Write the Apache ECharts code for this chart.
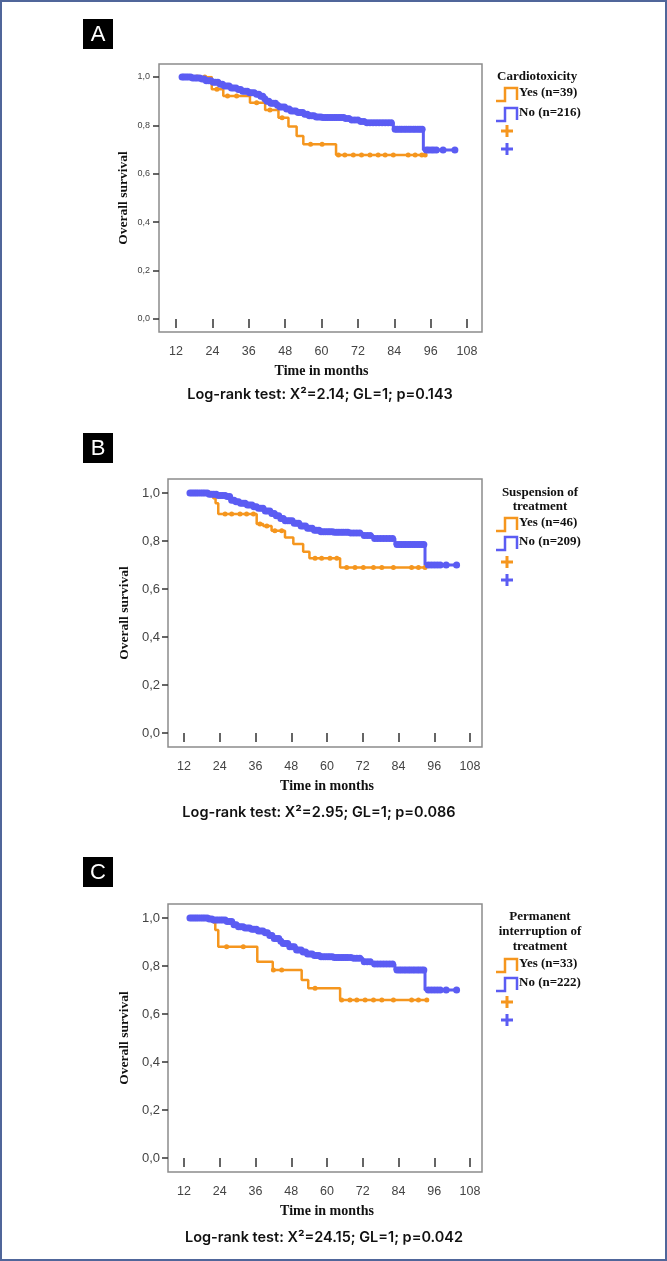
<!DOCTYPE html>
<html>
<head>
<meta charset="utf-8">
<script src="https://cdn.jsdelivr.net/npm/echarts@6/dist/echarts.min.js"></script>
<style>
html,body{margin:0;padding:0;background:#fff;}
#chart{width:667px;height:1261px;}
</style>
</head>
<body>
<div id="chart"></div>
<script>
// ---------- data ----------
const monthTicks = [12, 24, 36, 48, 60, 72, 84, 96, 108];
const survTicks = [0.0, 0.2, 0.4, 0.6, 0.8, 1.0];

// Panel A - Cardiotoxicity
const aYesTime = [14, 23.8, 27.6, 36.4, 41.4, 45.8, 49.1, 51.8, 54.0, 64.8, 94.2];
const aYesSurv = [1.0, 0.949, 0.921, 0.894, 0.864, 0.832, 0.795, 0.756, 0.722, 0.678, 0.678];
const aYesCens = [16.5, 19, 21.5, 25.5, 29, 32, 38.6, 43, 47, 56.4, 60.2, 65.6, 67.7, 70.5, 73.2, 76, 78.7, 81, 83.7, 88.6, 90.9, 93.1, 94.2];
const aNoTime = [14, 17, 20, 22, 24, 26, 28, 30, 32, 34, 36, 38, 40, 41, 42, 43, 45, 46, 48, 50, 52, 54, 56, 58, 60, 68, 70, 73, 75, 83.7, 93.6, 104];
const aNoSurv = [1.000, 0.996, 0.992, 0.985, 0.978, 0.970, 0.963, 0.955, 0.948, 0.941, 0.935, 0.929, 0.920, 0.910, 0.900, 0.892, 0.883, 0.876, 0.868, 0.860, 0.853, 0.846, 0.840, 0.835, 0.833, 0.828, 0.822, 0.816, 0.811, 0.784, 0.698, 0.698];
const aNoCens = [14, 14.6, 15.3, 16, 16.8, 17.5, 18.3, 19, 19.8, 20.6, 21.3, 22, 22.8, 23.5, 24.3, 25, 25.8, 26.6, 27.3, 28, 28.8, 29.5, 30.3, 31, 31.8, 32.6, 33.3, 34, 34.8, 35.5, 36.3, 37, 37.8, 38.6, 39.3, 40, 40.6, 41.3, 42, 42.6, 43.3, 44, 44.8, 45.5, 46.3, 47, 47.8, 48.5, 49.3, 50, 50.8, 51.5, 52.3, 53, 53.8, 54.5, 55.3, 56, 56.8, 57.5, 58.3, 59, 59.8, 60.5, 61.3, 62, 62.8, 63.5, 64.3, 65, 65.8, 66.5, 67.3, 68, 69, 70, 71, 72, 73, 74, 75, 76, 77, 78, 79, 80, 81, 82, 83, 84.3, 85, 85.8, 86.5, 87.3, 88, 88.8, 89.5, 90.3, 91, 91.8, 92.5, 93.2, 94.6, 95.3, 96.2, 97, 97.9, 100.1, 104];

// Panel B - Suspension of treatment
const bYesTime = [14, 21.8, 22.6, 23.5, 36.4, 38.6, 41.4, 45.9, 48.7, 52.0, 54.1, 64.4, 92.9];
const bYesSurv = [1.0, 0.978, 0.957, 0.913, 0.871, 0.862, 0.843, 0.815, 0.787, 0.755, 0.728, 0.690, 0.690];
const bYesCens = [16, 18.5, 20.5, 25.8, 28, 30.8, 33, 35.3, 37.5, 39.8, 42.5, 44.8, 56, 58.2, 61, 63.3, 66.6, 69.4, 72.2, 75.6, 78.4, 82.3, 88.4, 90.7, 92.9];
const bNoTime = [14, 20, 23, 26, 28, 29, 31, 33, 35, 37, 39, 41, 42.5, 44, 46, 48.7, 51, 53.2, 55.5, 57.7, 62, 68, 72, 75.5, 82.8, 92.9, 103.5];
const bNoSurv = [1.0, 0.995, 0.990, 0.985, 0.970, 0.964, 0.957, 0.950, 0.943, 0.936, 0.925, 0.915, 0.905, 0.894, 0.884, 0.874, 0.863, 0.853, 0.845, 0.839, 0.836, 0.833, 0.823, 0.810, 0.785, 0.700, 0.700];
const bNoCens = [14, 14.7, 15.4, 16.1, 16.8, 17.6, 18.3, 19, 19.8, 20.5, 21.3, 22, 22.8, 23.5, 24.3, 25, 25.8, 26.5, 27.3, 28, 28.8, 29.5, 30.3, 31, 31.8, 32.5, 33.3, 34, 34.8, 35.5, 36.3, 37, 37.8, 38.5, 39.3, 40, 40.8, 41.5, 42.3, 43, 43.8, 44.5, 45.3, 46, 46.8, 47.5, 48.3, 49, 49.8, 50.5, 51.3, 52, 52.8, 53.5, 54.3, 55, 55.8, 56.5, 57.3, 58, 58.8, 59.5, 60.3, 61, 61.8, 62.5, 63.3, 64, 64.8, 65.5, 66.3, 67, 68, 69, 70, 71, 72.5, 73.5, 74.5, 76, 77, 78, 79, 80, 81, 82, 83.5, 84.3, 85, 85.8, 86.5, 87.3, 88, 88.8, 89.5, 90.3, 91, 91.8, 92.5, 94, 95, 96, 97, 98, 100, 103.5];

// Panel C - Permanent interruption of treatment
const cYesTime = [14, 21.8, 22.5, 23.5, 36.6, 41.8, 51.5, 53.7, 64.4, 93.5];
const cYesSurv = [1.0, 0.981, 0.950, 0.880, 0.818, 0.783, 0.742, 0.707, 0.658, 0.658];
const cYesCens = [16, 18.5, 20.5, 26.3, 31.9, 42, 44.8, 56, 64.9, 67.7, 70, 72.8, 75.6, 78.4, 82.3, 88.4, 90.7, 93.5];
const cNoTime = [14, 20, 22, 26.3, 28.5, 29.7, 32, 34.2, 36.5, 38.6, 40.5, 42, 44, 45.3, 47.5, 49.8, 51.5, 53.2, 55.5, 57.7, 62, 68.8, 72.1, 75, 82.8, 92.9, 103.5];
const cNoSurv = [1.0, 0.996, 0.992, 0.985, 0.972, 0.964, 0.958, 0.953, 0.946, 0.939, 0.927, 0.915, 0.903, 0.894, 0.880, 0.867, 0.858, 0.850, 0.844, 0.839, 0.835, 0.832, 0.818, 0.808, 0.783, 0.700, 0.700];
const cNoCens = [14, 14.7, 15.4, 16.1, 16.8, 17.6, 18.3, 19, 19.8, 20.5, 21.3, 22, 22.8, 23.5, 24.3, 25, 25.8, 26.5, 27.3, 28, 28.8, 29.5, 30.3, 31, 31.8, 32.5, 33.3, 34, 34.8, 35.5, 36.3, 37, 37.8, 38.5, 39.3, 40, 40.8, 41.5, 42.3, 43, 43.8, 44.5, 45.3, 46, 46.8, 47.5, 48.3, 49, 49.8, 50.5, 51.3, 52, 52.8, 53.5, 54.3, 55, 55.8, 56.5, 57.3, 58, 58.8, 59.5, 60.3, 61, 61.8, 62.5, 63.3, 64, 64.8, 65.5, 66.3, 67, 68, 69, 70, 71, 72.5, 73.5, 74.5, 76, 77, 78, 79, 80, 81, 82, 83.5, 84.3, 85, 85.8, 86.5, 87.3, 88, 88.8, 89.5, 90.3, 91, 91.8, 92.5, 94, 95, 96, 97, 98, 100, 103.5];

const legendTitles = [["Cardiotoxicity"], ["Suspension of", "treatment"], ["Permanent", "interruption of", "treatment"]];
const legendYes = ["Yes (n=39)", "Yes (n=46)", "Yes (n=33)"];
const legendNo = ["No (n=216)", "No (n=209)", "No (n=222)"];
const panelLetters = ["A", "B", "C"];
const logRankTexts = [
  "Log-rank test: X\u00B2=2.14; GL=1; p=0.143",
  "Log-rank test: X\u00B2=2.95; GL=1; p=0.086",
  "Log-rank test: X\u00B2=24.15; GL=1; p=0.042"
];

// ---------- styling / layout ----------
const ORANGE = '#f5961e';
const BLUE = '#5b5cf3';
const SERIF = '"Liberation Serif", "DejaVu Serif", serif';
const SANS = '"Liberation Sans", Arial, sans-serif';

const panels = [
  { box: {left: 159, top: 64, width: 323, height: 268}, data: {left: 176, top: 77, width: 291, height: 242},
    yOff: 17, xOff: 13, yFont: 9, yMargin: 9, yNameGap: 28,
    yes: [aYesTime, aYesSurv, aYesCens], no: [aNoTime, aNoSurv, aNoCens],
    legend: {titleAlign: 'left', titleX: 497, titleY: [77], rows: [93, 113, 131, 149]},
    letter: {x: 83, y: 19}, logY: 395, logX: 320 },
  { box: {left: 168, top: 479, width: 314, height: 268}, data: {left: 184, top: 493, width: 286, height: 240},
    yOff: 16, xOff: 14, yFont: 13, yMargin: 8, yNameGap: 36,
    yes: [bYesTime, bYesSurv, bYesCens], no: [bNoTime, bNoSurv, bNoCens],
    legend: {titleAlign: 'center', titleX: 540, titleY: [493, 507], rows: [523, 542, 562, 580]},
    letter: {x: 83, y: 433}, logY: 813, logX: 319 },
  { box: {left: 168, top: 904, width: 314, height: 268}, data: {left: 184, top: 918, width: 286, height: 240},
    yOff: 16, xOff: 14, yFont: 13, yMargin: 8, yNameGap: 36,
    yes: [cYesTime, cYesSurv, cYesCens], no: [cNoTime, cNoSurv, cNoCens],
    legend: {titleAlign: 'center', titleX: 540, titleY: [917, 932, 947], rows: [964, 983, 1002, 1020]},
    letter: {x: 83, y: 857}, logY: 1238, logX: 324 }
];

function stepAt(times, survs, t) {
  let v = survs[0];
  for (let i = 0; i < times.length; i++) { if (times[i] <= t) v = survs[i]; }
  return v;
}

const grids = [], xAxes = [], yAxes = [], series = [], graphics = [];

graphics.push({type: 'rect', silent: true, shape: {x: 1, y: 1, width: 665, height: 1259},
  style: {fill: 'none', stroke: '#50669a', lineWidth: 2}});

panels.forEach((p, k) => {
  const gBox = grids.length;
  grids.push(Object.assign({show: true, borderColor: '#8c8c8c', borderWidth: 1.5, backgroundColor: 'transparent'}, p.box));
  xAxes.push({gridIndex: gBox, type: 'value', show: false, min: 0, max: 1});
  yAxes.push({gridIndex: gBox, type: 'value', show: false, min: 0, max: 1});
  const gData = grids.length;
  grids.push(Object.assign({show: false}, p.data));
  xAxes.push({
    gridIndex: gData, type: 'value', min: monthTicks[0], max: monthTicks[monthTicks.length - 1], interval: 12,
    offset: p.xOff,
    axisLine: {show: false},
    axisTick: {show: true, length: 9, lineStyle: {color: '#333', width: 1.5}},
    axisLabel: {show: true, fontSize: 12.5, color: '#444', fontFamily: SANS, margin: 13},
    splitLine: {show: false},
    name: 'Time in months', nameLocation: 'middle', nameGap: 32,
    nameTextStyle: {fontFamily: SERIF, fontWeight: 'bold', fontSize: 14, color: '#111'}
  });
  yAxes.push({
    gridIndex: gData, type: 'value', min: survTicks[0], max: survTicks[survTicks.length - 1], interval: 0.2,
    offset: p.yOff,
    axisLine: {show: false},
    axisTick: {show: true, length: 6, lineStyle: {color: '#333', width: 1.5}},
    axisLabel: {show: true, fontSize: p.yFont, color: '#444', fontFamily: SANS, margin: p.yMargin,
      formatter: v => v.toFixed(1).replace('.', ',')},
    splitLine: {show: false},
    name: 'Overall survival', nameLocation: 'middle', nameGap: p.yNameGap, nameRotate: 90,
    nameTextStyle: {fontFamily: SERIF, fontWeight: 'bold', fontSize: 13.5, color: '#111'}
  });

  const groups = [[p.yes, ORANGE, 5, 2.5, legendYes[k]], [p.no, BLUE, 7, 3, legendNo[k]]];
  groups.forEach(([g, color, sz, lw, name]) => {
    const [times, survs, cens] = g;
    series.push({
      type: 'line', name: name, xAxisIndex: gData, yAxisIndex: gData, step: 'end',
      showSymbol: false, symbol: 'none', lineStyle: {color: color, width: lw}, z: 3,
      data: times.map((t, i) => [t, survs[i]]), animation: false
    });
    series.push({
      type: 'scatter', name: name + ' censored', xAxisIndex: gData, yAxisIndex: gData,
      symbol: 'circle', symbolSize: sz, itemStyle: {color: color, opacity: 1}, z: 4,
      data: cens.map(t => [t, stepAt(times, survs, t)]), animation: false
    });
  });

  // panel letter
  graphics.push({type: 'rect', silent: true, shape: {x: p.letter.x, y: p.letter.y, width: 30, height: 30}, style: {fill: '#000'}});
  graphics.push({type: 'text', silent: true, x: p.letter.x + 15, y: p.letter.y + 16,
    style: {text: panelLetters[k], fill: '#fff', font: '22px ' + SANS, textAlign: 'center', textVerticalAlign: 'middle'}});

  // log-rank text
  graphics.push({type: 'text', silent: true, x: p.logX, y: p.logY,
    style: {text: logRankTexts[k], fill: '#111', font: '600 14.5px Inter, "Noto Sans", sans-serif', textAlign: 'center', textVerticalAlign: 'middle'}});

  // legend
  const L = p.legend;
  legendTitles[k].forEach((t, i) => {
    graphics.push({type: 'text', silent: true, x: L.titleX, y: L.titleY[i],
      style: {text: t, fill: '#111', font: 'bold 13px ' + SERIF, textAlign: L.titleAlign, textVerticalAlign: 'middle'}});
  });
  [[legendYes[k], ORANGE, L.rows[0]], [legendNo[k], BLUE, L.rows[1]]].forEach(([t, c, r]) => {
    graphics.push({type: 'polyline', silent: true,
      shape: {points: [[496, r + 8], [505, r + 8], [505, r - 5], [517, r - 5], [517, r + 7]]},
      style: {stroke: c, lineWidth: 2.5, fill: null}});
    graphics.push({type: 'text', silent: true, x: 519, y: r,
      style: {text: t, fill: '#111', font: 'bold 13px ' + SERIF, textAlign: 'left', textVerticalAlign: 'middle'}});
  });
  [[ORANGE, L.rows[2]], [BLUE, L.rows[3]]].forEach(([c, r]) => {
    graphics.push({type: 'line', silent: true, shape: {x1: 501, y1: r, x2: 513, y2: r}, style: {stroke: c, lineWidth: 3}});
    graphics.push({type: 'line', silent: true, shape: {x1: 507, y1: r - 6, x2: 507, y2: r + 6}, style: {stroke: c, lineWidth: 3}});
  });
});

const chart = echarts.init(document.getElementById('chart'), null, {renderer: 'canvas'});
chart.setOption({
  animation: false,
  backgroundColor: '#fff',
  grid: grids,
  xAxis: xAxes,
  yAxis: yAxes,
  series: series,
  graphic: graphics
});
</script>
</body>
</html>
